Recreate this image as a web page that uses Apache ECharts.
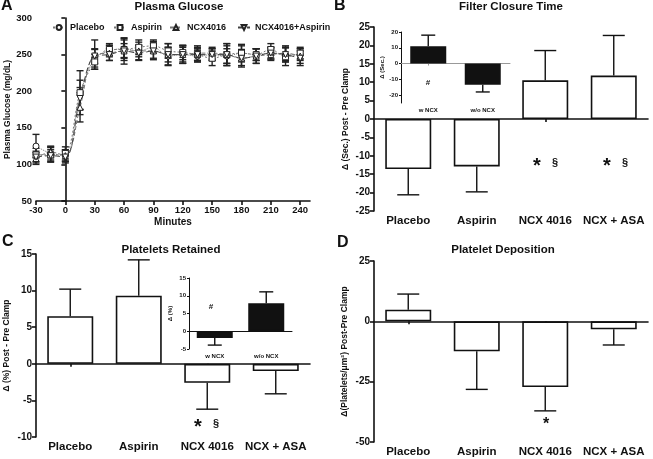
<!DOCTYPE html>
<html><head><meta charset="utf-8">
<script src="https://cdn.jsdelivr.net/npm/echarts@6/dist/echarts.min.js"></script>
<style>html,body{margin:0;padding:0;background:#fff}#c{width:653px;height:459px}</style>
</head><body><div id="c"></div>
<script>
// ---- Panel A data ----
const minutes = [-30,-15,0,15,30,45,60,75,90,105,120,135,150,165,180,195,210,225,240];
const glucosePlacebo = [125,115,112,195,245,255,258,255,260,248,250,248,250,248,252,250,252,250,250];
const glucosePlaceboErr = [16,9,8,20,12,8,12,8,8,12,10,8,8,10,10,8,8,10,8];
const glucoseAspirin = [113,113,115,198,240,257,257,260,262,255,253,250,245,250,252,250,257,247,252];
const glucoseAspirinErr = [9,10,9,30,10,8,15,10,8,10,10,8,10,15,12,8,8,12,8];
const glucoseNCX = [108,117,112,178,250,252,255,255,255,250,250,252,252,250,245,248,250,252,248];
const glucoseNCXErr = [8,8,8,20,20,10,18,12,12,15,12,10,8,15,12,10,8,10,10];
const glucoseNCXAsp = [110,112,110,190,248,250,255,252,255,250,250,250,250,250,245,248,252,250,245];
const glucoseNCXAspErr = [8,8,8,15,10,8,10,10,10,10,12,10,8,12,10,10,8,10,10];
const seriesNames = ['Placebo','Aspirin','NCX4016','NCX4016+Aspirin'];

// ---- Bar panels ----
const barCats = ['Placebo','Aspirin','NCX 4016','NCX + ASA'];
const insetCats = ['w NCX','w/o NCX'];
const closureTime = [-13.6,-12.9,10.5,11.8];
const closureTimeErr = [7.0,6.9,8.1,10.9];
const closureInset = [11,-13.5];
const closureInsetErr = [7,4.5];
const retained = [6.5,9.3,-2.6,-1.0];
const retainedErr = [3.7,4.9,3.6,3.1];
const retainedInset = [-1.9,7.9];
const retainedInsetErr = [2.0,3.2];
const deposition = [4.8,-12.4,-27.2,-3.3];
const depositionErr = [6.5,15.8,9.9,6.5];

const FONT = 'Liberation Sans, Arial, sans-serif';
const BLACK = '#111';

function errLine(xi, yi, xs, vals, errs, cap, twoSided, color) {
  return {
    type: 'custom', xAxisIndex: xi, yAxisIndex: yi, silent: true, z: 3,
    data: vals.map((v, i) => [xs[i], v, errs[i]]),
    encode: {x: 0, y: 1},
    renderItem(params, api) {
      const x = api.value(0), v = api.value(1), e = api.value(2);
      const children = [];
      const st = {stroke: color || BLACK, lineWidth: 1.4};
      const ends = twoSided ? [v + e, v - e] : [v + (v >= 0 ? e : -e)];
      const p0 = api.coord([x, v]);
      ends.forEach(end => {
        const p1 = api.coord([x, end]);
        children.push({type: 'line', shape: {x1: p0[0], y1: p0[1], x2: p1[0], y2: p1[1]}, style: st});
        children.push({type: 'line', shape: {x1: p1[0] - cap / 2, y1: p1[1], x2: p1[0] + cap / 2, y2: p1[1]}, style: st});
      });
      return {type: 'group', children};
    }
  };
}

const grids = [
  {left: 36, top: 18, width: 274, height: 183},   // A
  {left: 374, top: 27, width: 274, height: 184},  // B
  {left: 401, top: 32, width: 109, height: 71},   // B inset
  {left: 36, top: 254, width: 274, height: 183},  // C
  {left: 189, top: 278, width: 103, height: 71},  // C inset
  {left: 374, top: 261, width: 274, height: 181}  // D
].map(g => Object.assign({outerBoundsMode: 'none', containLabel: false}, g));

function labelAxis(gi, cats, fs, margin) {
  return {type: 'category', gridIndex: gi, data: cats, position: 'bottom',
    axisLine: {show: false, onZero: false}, axisTick: {show: false},
    axisLabel: {fontFamily: FONT, fontWeight: 'bold', fontSize: fs, color: BLACK, margin: margin, interval: 0}};
}
function zeroAxis(gi, cats, color, w, tickLen) {
  return {type: 'category', gridIndex: gi, data: cats, position: 'bottom',
    axisLine: {show: true, onZero: true, lineStyle: {color: color, width: w}},
    axisTick: {show: true, alignWithLabel: true, length: tickLen, lineStyle: {color: color, width: w}},
    axisLabel: {show: false}, splitLine: {show: false}};
}
function valAxis(gi, min, max, interval, fs, name, nameFs, nameGap, extra) {
  return Object.assign({type: 'value', gridIndex: gi, min, max, interval,
    axisLine: {show: true, lineStyle: {color: BLACK, width: 1.6}},
    axisTick: {show: true, length: 4, lineStyle: {color: BLACK, width: 1.6}},
    axisLabel: {fontFamily: FONT, fontWeight: 'bold', fontSize: fs, color: BLACK, margin: 4},
    splitLine: {show: false},
    name: name, nameLocation: 'middle', nameRotate: 90, nameGap: nameGap,
    nameTextStyle: {fontFamily: FONT, fontWeight: 'bold', fontSize: nameFs, color: BLACK}}, extra || {});
}

const xAxes = [
  {type: 'value', gridIndex: 0, min: -30, max: 250, interval: 30,
    axisLine: {lineStyle: {color: BLACK, width: 1.6}},
    axisTick: {length: 4, lineStyle: {color: BLACK, width: 1.6}},
    axisLabel: {fontFamily: FONT, fontWeight: 'bold', fontSize: 9.5, color: BLACK, margin: 4, showMaxLabel: false},
    splitLine: {show: false},
    name: 'Minutes', nameLocation: 'middle', nameGap: 16,
    nameTextStyle: {fontFamily: FONT, fontWeight: 'bold', fontSize: 10, color: BLACK}},
  labelAxis(1, barCats, 11.5, 4), zeroAxis(1, barCats, BLACK, 1.6, 3),
  labelAxis(2, insetCats, 6, 4), zeroAxis(2, insetCats, '#999', 1, 2),
  labelAxis(3, barCats, 11.5, 4), zeroAxis(3, barCats, BLACK, 1.6, 3),
  labelAxis(4, insetCats, 6, 4), zeroAxis(4, insetCats, BLACK, 1, 2),
  labelAxis(5, barCats, 11.5, 4), zeroAxis(5, barCats, BLACK, 1.6, 3)
];
const yAxes = [
  valAxis(0, 50, 300, 50, 9.5, 'Plasma Glucose (mg/dL)', 8.5, 24),
  valAxis(1, -25, 25, 5, 10, 'Δ (Sec.) Post - Pre Clamp', 8.5, 24),
  valAxis(2, -25, 20, 5, 6, 'Δ (Sec.)', 6, 13, {
    axisLine: {show: true, lineStyle: {color: BLACK, width: 1}},
    axisTick: {show: true, length: 2, customValues: [-20, -10, 0, 10, 20], lineStyle: {color: BLACK, width: 1}},
    axisLabel: {fontFamily: FONT, fontWeight: 'bold', fontSize: 6, color: BLACK, margin: 3, customValues: [-20, -10, 0, 10, 20]}}),
  valAxis(3, -10, 15, 5, 10, 'Δ (%) Post - Pre Clamp', 8.5, 25),
  valAxis(4, -5, 15, 5, 6, 'Δ (%)', 6, 16, {
    axisLine: {show: true, lineStyle: {color: BLACK, width: 1}},
    axisTick: {show: true, length: 2, lineStyle: {color: BLACK, width: 1}},
    axisLabel: {fontFamily: FONT, fontWeight: 'bold', fontSize: 6, color: BLACK, margin: 3}}),
  valAxis(5, -50, 25, 25, 10, 'Δ(Platelets/μm²) Post-Pre Clamp', 8.5, 25)
];

const symbols = ['circle', 'rect', 'triangle', 'triangle'];
const rotates = [0, 0, 0, 180];
const dashes = ['dotted', [2, 2], [4, 2], [6, 3]];
const lineColors = ['#777', '#777', '#777', '#444'];
const glucoseVals = [glucosePlacebo, glucoseAspirin, glucoseNCX, glucoseNCXAsp];
const glucoseErrs = [glucosePlaceboErr, glucoseAspirinErr, glucoseNCXErr, glucoseNCXAspErr];

const series = [];
glucoseVals.forEach((vals, k) => {
  series.push(errLine(0, 0, minutes, vals, glucoseErrs[k], 7, true, '#222'));
});
glucoseVals.forEach((vals, k) => {
  series.push({
    type: 'line', name: seriesNames[k], xAxisIndex: 0, yAxisIndex: 0, z: 4,
    data: minutes.map((m, i) => [m, vals[i]]),
    smooth: 0.35, symbol: symbols[k], symbolRotate: rotates[k], symbolSize: 6,
    lineStyle: {color: lineColors[k], width: 1, type: dashes[k]},
    itemStyle: {color: '#fff', borderColor: '#222', borderWidth: 1}
  });
});

function bars(xi, yi, cats, vals, fill, width) {
  return {type: 'bar', xAxisIndex: xi, yAxisIndex: yi, barWidth: width, z: 2,
    data: vals, itemStyle: {color: fill, borderColor: BLACK, borderWidth: 1.6}};
}
// B
series.push(bars(1, 1, barCats, closureTime, '#fff', 46));
series.push(errLine(1, 1, barCats, closureTime, closureTimeErr, 22, false));
series.push(bars(3, 2, insetCats, closureInset, '#111', 36));
series.push(errLine(3, 2, insetCats, closureInset, closureInsetErr, 14, false));
// C
series.push(bars(5, 3, barCats, retained, '#fff', 46));
series.push(errLine(5, 3, barCats, retained, retainedErr, 22, false));
series.push(bars(7, 4, insetCats, retainedInset, '#111', 36));
series.push(errLine(7, 4, insetCats, retainedInset, retainedInsetErr, 14, false));
// D
series.push(bars(9, 5, barCats, deposition, '#fff', 46));
series.push(errLine(9, 5, barCats, deposition, depositionErr, 22, false));

const legendLefts = [47, 108, 164, 232];
const legends = seriesNames.map((n, k) => ({
  data: [n], left: legendLefts[k], top: 18, itemWidth: 12, itemHeight: 6, itemGap: 5,
  textStyle: {fontFamily: FONT, fontWeight: 'bold', fontSize: 9, color: BLACK}
}));

function txt(x, y, t, fs, weight, align) {
  return {type: 'text', x: x, y: y, style: {text: t, fontFamily: FONT, fontSize: fs, fontWeight: weight || 'bold',
    fill: BLACK, align: align || 'center', verticalAlign: 'middle'}};
}
const titleStyle = (t, x, y) => txt(x, y, t, 11.5, 'bold');
const graphics = [
  txt(1, 6, 'A', 16, 'bold', 'left'), txt(334, 6, 'B', 16, 'bold', 'left'),
  txt(2, 242, 'C', 16, 'bold', 'left'), txt(337, 243, 'D', 16, 'bold', 'left'),
  titleStyle('Plasma Glucose', 179, 7), titleStyle('Filter Closure Time', 511, 7),
  titleStyle('Platelets Retained', 171, 250), titleStyle('Platelet Deposition', 503, 250),
  txt(537, 166, '*', 20), txt(555, 163, '§', 11), txt(607, 166, '*', 20), txt(625, 163, '§', 11),
  txt(198, 427, '*', 20), txt(216, 424, '§', 11), txt(546, 425, '*', 16),
  txt(428, 83, '#', 8), txt(211, 307, '#', 8)
];

const chart = echarts.init(document.getElementById('c'), null, {renderer: 'canvas'});
chart.setOption({
  animation: false, backgroundColor: '#fff',
  grid: grids, xAxis: xAxes, yAxis: yAxes, series: series, legend: legends,
  graphic: graphics
});
</script></body></html>
